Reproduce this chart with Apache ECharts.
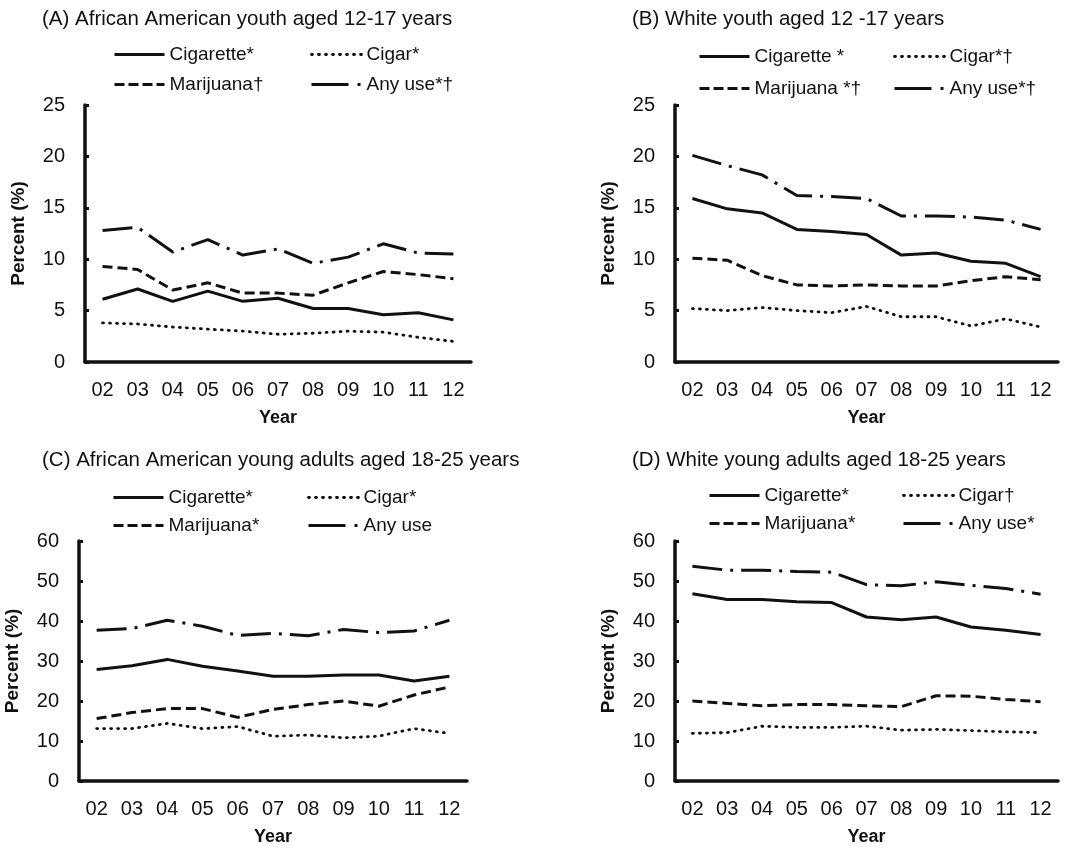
<!DOCTYPE html>
<html>
<head>
<meta charset="utf-8">
<script src="https://cdn.jsdelivr.net/npm/echarts@6/dist/echarts.min.js"></script>
<style>
  html, body { margin: 0; padding: 0; background: #fff; }
</style>
</head>
<body>
<div id="main" style="width:1087px;height:850px;"></div>
<script>
// survey years (2002-2012)
var years = ['02', '03', '04', '05', '06', '07', '08', '09', '10', '11', '12']

// (A) African American youth 12-17
var aCigarette = [6.1, 7.1, 5.9, 6.9, 5.9, 6.2, 5.2, 5.2, 4.6, 4.8, 4.1]
var aCigar     = [3.8, 3.7, 3.4, 3.2, 3.0, 2.7, 2.8, 3.0, 2.9, 2.4, 2.0]
var aMarijuana = [9.3, 9.0, 7.0, 7.7, 6.7, 6.7, 6.5, 7.7, 8.8, 8.5, 8.1]
var aAnyUse    = [12.8, 13.1, 10.7, 11.9, 10.4, 11.0, 9.6, 10.2, 11.5, 10.6, 10.5]

// (B) White youth 12-17
var bCigarette = [15.9, 14.9, 14.5, 12.9, 12.7, 12.4, 10.4, 10.6, 9.8, 9.6, 8.3]
var bCigar     = [5.2, 5.0, 5.3, 5.0, 4.8, 5.4, 4.4, 4.4, 3.5, 4.2, 3.4]
var bMarijuana = [10.1, 9.9, 8.4, 7.5, 7.4, 7.5, 7.4, 7.4, 7.9, 8.3, 8.0]
var bAnyUse    = [20.1, 19.1, 18.2, 16.2, 16.1, 15.9, 14.2, 14.2, 14.1, 13.8, 12.9]

// (C) African American young adults 18-25
var cCigarette = [27.9, 28.8, 30.4, 28.7, 27.5, 26.2, 26.2, 26.5, 26.5, 25.0, 26.2]
var cCigar     = [13.1, 13.1, 14.4, 13.1, 13.6, 11.2, 11.5, 10.8, 11.2, 13.1, 11.9]
var cMarijuana = [15.6, 17.1, 18.1, 18.1, 15.9, 17.9, 19.1, 20.0, 18.7, 21.5, 23.5]
var cAnyUse    = [37.7, 38.1, 40.2, 38.7, 36.4, 36.9, 36.3, 37.9, 37.1, 37.5, 40.2]

// (D) White young adults 18-25
var dCigarette = [46.8, 45.4, 45.4, 44.8, 44.6, 41.0, 40.3, 41.0, 38.5, 37.7, 36.6]
var dCigar     = [11.9, 12.1, 13.7, 13.4, 13.4, 13.7, 12.7, 12.9, 12.6, 12.3, 12.1]
var dMarijuana = [20.0, 19.4, 18.8, 19.1, 19.1, 18.8, 18.6, 21.3, 21.2, 20.4, 19.8]
var dAnyUse    = [53.7, 52.7, 52.7, 52.4, 52.2, 49.1, 48.8, 49.8, 48.9, 48.1, 46.7]

var black = '#111'
var font = '"Liberation Sans", Arial, Helvetica, sans-serif'

// line look for each substance: cigarette, cigar, marijuana, any use
var lineStyles = [
  { type: 'solid', width: 3, cap: 'butt' },
  { type: [1, 6], width: 2.8, cap: 'round' },
  { type: [10, 5], width: 3, cap: 'butt' },
  { type: [30, 8, 3, 8], width: 3, cap: 'butt' }
]
// legend samples are short, so any use gets one long dash + one dot there
var legendTypes = ['solid', [1, 6], [10, 4], [37, 9, 3, 30]]

var panels = [
  {
    title: '(A) African American youth aged 12-17 years',
    names: ['Cigarette*', 'Cigar*', 'Marijuana†', 'Any use*†'],
    data: [aCigarette, aCigar, aMarijuana, aAnyUse],
    grid: { left: 85, top: 105, width: 386, height: 257 },
    max: 25, interval: 5,
    titleAt: [37, 4],
    legendAt: [108, 305, 40], legendGap: 11
  },
  {
    title: '(B) White youth aged 12 -17 years',
    names: ['Cigarette *', 'Cigar*†', 'Marijuana *†', 'Any use*†'],
    data: [bCigarette, bCigar, bMarijuana, bAnyUse],
    grid: { left: 675, top: 105, width: 383, height: 257 },
    max: 25, interval: 5,
    titleAt: [627, 4],
    legendAt: [693, 888, 42], legendGap: 13
  },
  {
    title: '(C) African American young adults aged 18-25 years',
    names: ['Cigarette*', 'Cigar*', 'Marijuana*', 'Any use'],
    data: [cCigarette, cCigar, cMarijuana, cAnyUse],
    grid: { left: 79, top: 541, width: 388, height: 240 },
    max: 60, interval: 10,
    titleAt: [37, 445],
    legendAt: [107, 302, 483], legendGap: 9
  },
  {
    title: '(D) White young adults aged 18-25 years',
    names: ['Cigarette*', 'Cigar†', 'Marijuana*', 'Any use*'],
    data: [dCigarette, dCigar, dMarijuana, dAnyUse],
    grid: { left: 675, top: 541, width: 383, height: 240 },
    max: 60, interval: 10,
    titleAt: [627, 445],
    legendAt: [703, 897, 481], legendGap: 9
  }
]

var titles = [], grids = [], xAxes = [], yAxes = [], legends = [], series = []

panels.forEach(function (p, i) {
  titles.push({
    text: p.title,
    left: p.titleAt[0],
    top: p.titleAt[1],
    textStyle: { fontFamily: font, fontSize: 20.5, fontWeight: 'normal', color: black }
  })
  grids.push(p.grid)
  xAxes.push({
    type: 'category',
    gridIndex: i,
    data: years,
    boundaryGap: true,
    axisLine: { lineStyle: { color: black, width: 3.5 } },
    axisTick: { show: false },
    axisLabel: { fontFamily: font, fontSize: 20, color: black, margin: 18 },
    name: 'Year',
    nameLocation: 'middle',
    nameGap: 47,
    nameTextStyle: { fontFamily: font, fontSize: 18, fontWeight: 'bold', color: black }
  })
  yAxes.push({
    type: 'value',
    gridIndex: i,
    min: 0,
    max: p.max,
    interval: p.interval,
    axisLine: { show: true, lineStyle: { color: black, width: 3.5 } },
    axisTick: { show: true, inside: true, length: 4, lineStyle: { color: black, width: 3 } },
    splitLine: { show: false },
    axisLabel: { fontFamily: font, fontSize: 20, color: black, margin: 20 },
    name: 'Percent (%)',
    nameLocation: 'middle',
    nameGap: 57,
    nameRotate: 90,
    nameTextStyle: { fontFamily: font, fontSize: 19, fontWeight: 'bold', color: black }
  })
  // two legend columns: (cigarette, marijuana) and (cigar, any use)
  var cols = [[0, 2], [1, 3]]
  cols.forEach(function (idx, c) {
    legends.push({
      orient: 'vertical',
      left: p.legendAt[c],
      top: p.legendAt[2],
      itemGap: p.legendGap,
      itemWidth: 50,
      itemHeight: 14,
      selectedMode: false,
      data: idx.map(function (k) {
        return {
          name: p.names[k],
          itemStyle: { opacity: 0 },
          lineStyle: { width: lineStyles[k].width, type: legendTypes[k], cap: lineStyles[k].cap, color: black }
        }
      }),
      textStyle: { fontFamily: font, fontSize: 19, color: black }
    })
  })
  p.data.forEach(function (vals, k) {
    series.push({
      name: p.names[k],
      type: 'line',
      xAxisIndex: i,
      yAxisIndex: i,
      data: vals,
      symbol: 'none',
      lineStyle: { color: black, width: lineStyles[k].width, type: lineStyles[k].type, cap: lineStyles[k].cap },
      itemStyle: { color: black }
    })
  })
})

var myChart = echarts.init(document.getElementById('main'))
myChart.setOption({
  animation: false,
  backgroundColor: '#fff',
  title: titles,
  grid: grids,
  xAxis: xAxes,
  yAxis: yAxes,
  legend: legends,
  series: series
})
</script>
</body>
</html>
